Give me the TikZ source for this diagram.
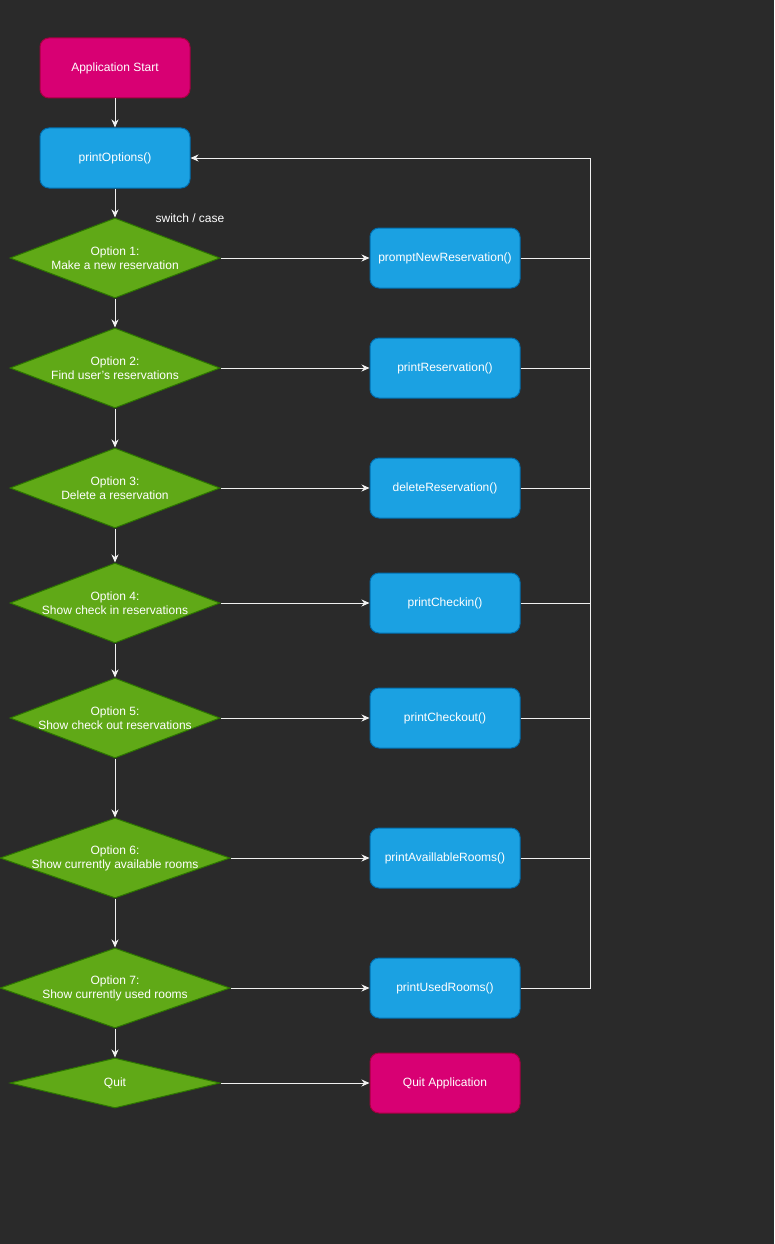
\documentclass[tikz,border=0pt]{standalone}
\usepackage{fontspec}
\setmainfont{Liberation Sans}
\usetikzlibrary{shapes.geometric,arrows.meta}
\definecolor{bg}{HTML}{2A2A2A}
\definecolor{pinkfill}{HTML}{D80073}
\definecolor{pinkline}{HTML}{A50040}
\definecolor{bluefill}{HTML}{1BA1E2}
\definecolor{blueline}{HTML}{006EAF}
\definecolor{greenfill}{HTML}{60A917}
\definecolor{greenline}{HTML}{2D7600}
\definecolor{wire}{HTML}{F0F0F0}
\begin{document}
\begin{tikzpicture}[x=1pt,y=-1pt,
  every node/.style={font=\fontsize{12}{14}\selectfont, text=white, align=center},
  termbox/.style={draw=pinkline, fill=pinkfill, rounded corners=9pt, minimum width=150pt, minimum height=60pt, inner sep=0pt, line width=1pt},
  funcbox/.style={draw=blueline, fill=bluefill, rounded corners=9pt, minimum width=150pt, minimum height=60pt, inner sep=0pt, line width=1pt},
  dia/.style={diamond, draw=greenline, fill=greenfill, inner sep=0pt, line width=1pt, minimum width=210pt, minimum height=80pt},
  arr/.style={draw=wire, line width=1pt, -{Stealth[length=8pt,width=7pt,inset=2.5pt]}},
  ln/.style={draw=wire, line width=1pt}
]
\useasboundingbox (0,0) rectangle (774,1244);
\fill[bg] (0,0) rectangle (774,1244);

\node[termbox] (start) at (115,68) {Application Start};
\node[funcbox] (opts) at (115,158) {printOptions()};
\node (sw) at (190,218) {switch / case};

\node[dia, label={center:{Option 1:\\Make a new reservation}}] (d1) at (115,258) {};
\node[dia, label={center:{Option 2:\\Find user's reservations}}] (d2) at (115,368) {};
\node[dia, label={center:{Option 3:\\Delete a reservation}}] (d3) at (115,488) {};
\node[dia, label={center:{Option 4:\\Show check in reservations}}] (d4) at (115,603) {};
\node[dia, label={center:{Option 5:\\Show check out reservations}}] (d5) at (115,718) {};
\node[dia, minimum width=230pt, label={center:{Option 6:\\Show currently available rooms}}] (d6) at (115,858) {};
\node[dia, minimum width=230pt, label={center:{Option 7:\\Show currently used rooms}}] (d7) at (115,988) {};
\node[dia, minimum height=50pt, label={center:{Quit}}] (dq) at (115,1083) {};

\node[funcbox] (f1) at (445,258) {promptNewReservation()};
\node[funcbox] (f2) at (445,368) {printReservation()};
\node[funcbox] (f3) at (445,488) {deleteReservation()};
\node[funcbox] (f4) at (445,603) {printCheckin()};
\node[funcbox] (f5) at (445,718) {printCheckout()};
\node[funcbox] (f6) at (445,858) {printAvaillableRooms()};
\node[funcbox] (f7) at (445,988) {printUsedRooms()};
\node[termbox] (qa) at (445,1083) {Quit Application};

\coordinate (top) at (590,158);

\draw[arr] (start) -- (opts);
\draw[arr] (opts) -- (d1);
\draw[arr] (d1) -- (d2);
\draw[arr] (d2) -- (d3);
\draw[arr] (d3) -- (d4);
\draw[arr] (d4) -- (d5);
\draw[arr] (d5) -- (d6);
\draw[arr] (d6) -- (d7);
\draw[arr] (d7) -- (dq);

\draw[arr] (d1.east) -- (f1.west);
\draw[arr] (d2.east) -- (f2.west);
\draw[arr] (d3.east) -- (f3.west);
\draw[arr] (d4.east) -- (f4.west);
\draw[arr] (d5.east) -- (f5.west);
\draw[arr] (d6.east) -- (f6.west);
\draw[arr] (d7.east) -- (f7.west);
\draw[arr] (dq.east) -- (qa.west);

\draw[ln] (f1.east) -| (top);
\draw[ln] (f2.east) -| (top);
\draw[ln] (f3.east) -| (top);
\draw[ln] (f4.east) -| (top);
\draw[ln] (f5.east) -| (top);
\draw[ln] (f6.east) -| (top);
\draw[ln] (f7.east) -| (top);
\draw[arr] (top) -- (opts.east);
\end{tikzpicture}
\end{document}
